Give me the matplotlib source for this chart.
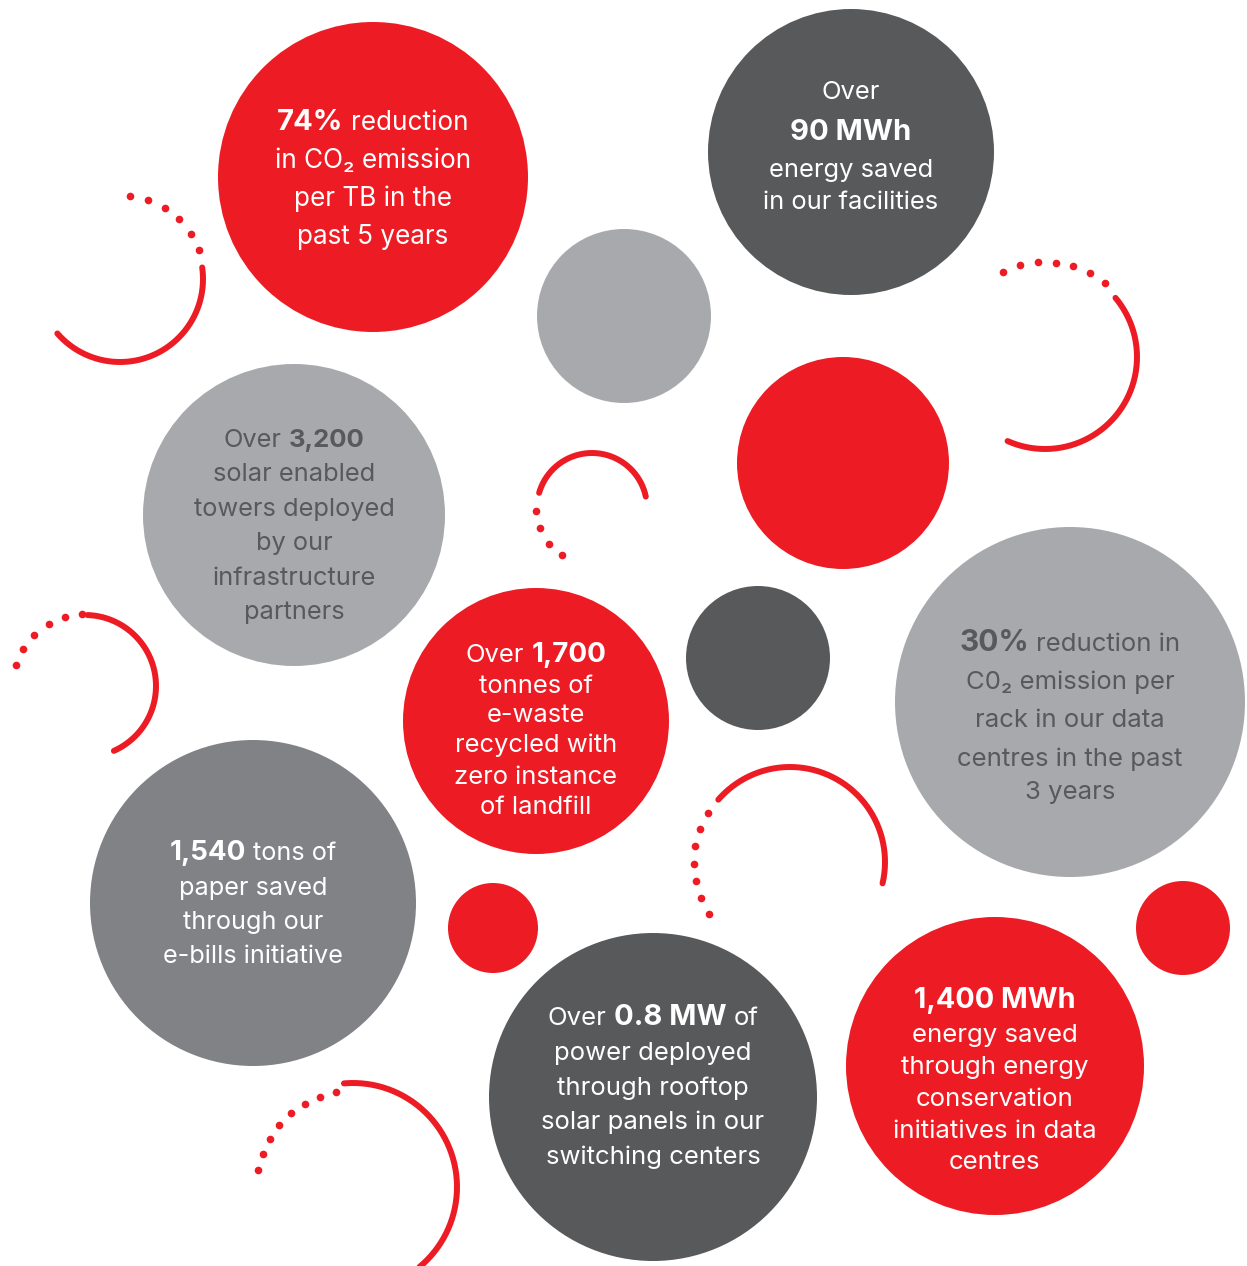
import numpy as np
import matplotlib
matplotlib.use('Agg')
import matplotlib.pyplot as plt
from matplotlib.patches import Circle

plt.rcParams['font.family'] = ['Inter', 'DejaVu Sans']

RED = '#ED1C24'
DARK = '#58595B'
LIGHT = '#A7A9AC'
MID = '#808285'
WHITE = '#FFFFFF'

# text of each bubble: list of lines, each line is a list of (text, bold) runs
text_74 = [[('74%', True), ('reduction', False)],
           [('in CO\u2082 emission', False)],
           [('per TB in the', False)],
           [('past 5 years', False)]]
text_90 = [[('Over', False)],
           [('90 MWh', True)],
           [('energy saved', False)],
           [('in our facilities', False)]]
text_3200 = [[('Over', False), ('3,200', True)],
             [('solar enabled', False)],
             [('towers deployed', False)],
             [('by our', False)],
             [('infrastructure', False)],
             [('partners', False)]]
text_1700 = [[('Over', False), ('1,700', True)],
             [('tonnes of', False)],
             [('e-waste', False)],
             [('recycled with', False)],
             [('zero instance', False)],
             [('of landfill', False)]]
text_30 = [[('30%', True), ('reduction in', False)],
           [('C0\u2082 emission per', False)],
           [('rack in our data', False)],
           [('centres in the past', False)],
           [('3 years', False)]]
text_1540 = [[('1,540', True), ('tons of', False)],
             [('paper saved', False)],
             [('through our', False)],
             [('e-bills initiative', False)]]
text_08 = [[('Over', False), ('0.8 MW', True), ('of', False)],
           [('power deployed', False)],
           [('through rooftop', False)],
           [('solar panels in our', False)],
           [('switching centers', False)]]
text_1400 = [[('1,400 MWh', True)],
             [('energy saved', False)],
             [('through energy', False)],
             [('conservation', False)],
             [('initiatives in data', False)],
             [('centres', False)]]

# bubbles: centre x, centre y, radius, fill
bubbles = [
    (373, 177, 155, RED),
    (851, 152, 143, DARK),
    (624, 316, 87, LIGHT),
    (843, 463, 106, RED),
    (294, 515, 151, LIGHT),
    (536, 721, 133, RED),
    (758, 658, 72, DARK),
    (1070, 702, 175, LIGHT),
    (253, 903, 163, MID),
    (493, 928, 45, RED),
    (653, 1097, 164, DARK),
    (995, 1066, 149, RED),
    (1183, 928, 47, RED),
]

# text blocks: centre x, line y positions, font size, colour, lines, size of bold runs
blocks = [
    (373, [121, 159, 197, 235], 18.8, WHITE, text_74, 21),
    (851, [90, 131, 168, 200], 18.4, WHITE, text_90, 21),
    (294, [438, 472, 507, 541, 576, 610], 18.3, DARK, text_3200, 18.5),
    (536, [653, 684, 713, 743, 775, 805], 18.4, WHITE, text_1700, 20),
    (1070, [642, 680, 718, 757, 790], 18.5, DARK, text_30, 21.5),
    (253, [851, 886, 920, 954], 18.2, WHITE, text_1540, 20),
    (653, [1016, 1051, 1086, 1120, 1155], 18.5, WHITE, text_08, 21),
    (995, [999, 1033, 1065, 1097, 1129, 1160], 18.6, WHITE, text_1400, 20.7),
]

# arcs: centre x, centre y, radius, solid start/end angle,
# dotted start/end angle, number of dots, radius of the dotted part
arcs = [
    (120, 279, 83, -139, 8, 20, 83, 6, 84),
    (1045, 357, 92, -114, 40, 51, 116, 7, 95),
    (592, 508, 55, 12, 164, 183, 238, 4, 56),
    (85, 686, 71, -66, 88, 92, 163, 6, 72),
    (790, 862, 95, -13, 139, 149, 213, 7, 96),
    (353, 1187, 104, -55, 95, 100, 170, 8, 96),
]

W, H = 1247, 1266
fig = plt.figure(figsize=(W / 100, H / 100), dpi=100)
ax = fig.add_axes([0, 0, 1, 1])
ax.set_xlim(0, W)
ax.set_ylim(H, 0)
ax.set_aspect('equal')
ax.axis('off')

for cx, cy, r, c in bubbles:
    ax.add_patch(Circle((cx, cy), r, color=c, lw=0))

for cx, cy, r, a0, a1, d0, d1, n, rd in arcs:
    th = np.radians(np.linspace(a0, a1, 200))
    ax.plot(cx + r * np.cos(th), cy - r * np.sin(th), color=RED, lw=4.3,
            solid_capstyle='round')
    th = np.radians(np.linspace(d0, d1, n))
    ax.plot(cx + rd * np.cos(th), cy - rd * np.sin(th), 'o', color=RED, ms=5.5,
            mec='none')

renderer = fig.canvas.get_renderer()


def width_of(s, size, bold):
    t = ax.text(0, 0, s, fontsize=size, fontweight='bold' if bold else 'normal')
    w = t.get_window_extent(renderer).width
    t.remove()
    return w


def rich_line(cx, y, runs, size, bsize, color):
    gap = width_of('x x', size, False) - width_of('xx', size, False)
    parts = []
    for s, bold in runs:
        sz = bsize if bold else size
        parts.append((s, bold, sz, width_of(s, sz, bold)))
    total = sum(p[3] for p in parts) + gap * (len(parts) - 1)
    x = cx - total / 2
    base = y + 0.48 * size
    for s, bold, sz, w in parts:
        ax.text(x, base, s, fontsize=sz, color=color, va='baseline', ha='left',
                fontweight='bold' if bold else 'normal')
        x += w + gap


for cx, ys, size, color, lines, bsize in blocks:
    for y, runs in zip(ys, lines):
        rich_line(cx, y, runs, size, bsize, color)

fig.savefig('out.png', dpi=100, facecolor='white')
